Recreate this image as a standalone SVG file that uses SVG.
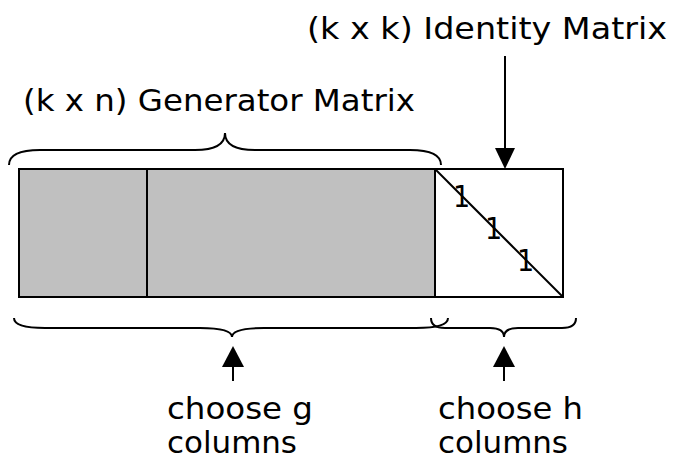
<svg xmlns="http://www.w3.org/2000/svg" width="677" height="461" viewBox="0 0 677 461">
<defs>
<style>
.t{font-family:"DejaVu Sans Condensed","DejaVu Sans",sans-serif;font-size:31px;fill:#000}
.one{font-family:"DejaVu Sans Condensed","DejaVu Sans",sans-serif;font-size:30px;fill:#000}
.ln{stroke:#000;stroke-width:2;fill:none}
.br{stroke:#000;stroke-width:2;fill:none}
</style>
</defs>
<rect width="677" height="461" fill="#fff"/>
<g id="generator">
<rect x="19" y="169" width="416" height="128" fill="#c0c0c0" stroke="#000" stroke-width="2"/>
<line x1="147" y1="169" x2="147" y2="297" class="ln"/>
</g>
<g id="identity">
<rect x="435" y="169" width="128" height="128" fill="#fff" stroke="#000" stroke-width="2"/>
<line x1="435" y1="169" x2="563" y2="297" class="ln"/>
<text class="one" x="453" y="207">1</text>
<text class="one" x="485" y="239">1</text>
<text class="one" x="517" y="271">1</text>
</g>
<g id="labels">
<text class="t" x="307" y="39" textLength="360" lengthAdjust="spacingAndGlyphs">(k x k) Identity Matrix</text>
<text class="t" x="23" y="111" textLength="392" lengthAdjust="spacingAndGlyphs">(k x n) Generator Matrix</text>
<text class="t" x="167" y="419" textLength="146" lengthAdjust="spacingAndGlyphs">choose g</text>
<text class="t" x="167" y="453" textLength="130" lengthAdjust="spacingAndGlyphs">columns</text>
<text class="t" x="438" y="419" textLength="145" lengthAdjust="spacingAndGlyphs">choose h</text>
<text class="t" x="438" y="453" textLength="130" lengthAdjust="spacingAndGlyphs">columns</text>
</g>
<g id="connectors">
<path class="br" d="M9,165 Q9,150 40,150 L195,150 Q225,150 225,133 Q225,150 255,150 L410,150 Q441,150 441,165"/>
<path class="br" d="M14,318 Q14,328 45,328 L200,328 Q232,328 232,337 Q232,328 264,328 L416,328 Q448,328 448,318"/>
<path class="br" d="M431,318 Q431,328 445,328 L490,328 Q504,328 504,337 Q504,328 518,328 L562,328 Q576,328 576,318"/>
<line x1="505" y1="56" x2="505" y2="148" class="ln"/>
<path d="M495,148 L515,148 L505,169 Z" fill="#000"/>
<line x1="233" y1="381" x2="233" y2="366" class="ln"/>
<path d="M222,367 L244,367 L233,346 Z" fill="#000"/>
<line x1="504" y1="381" x2="504" y2="366" class="ln"/>
<path d="M493,367 L515,367 L504,346 Z" fill="#000"/>
</g>
</svg>
